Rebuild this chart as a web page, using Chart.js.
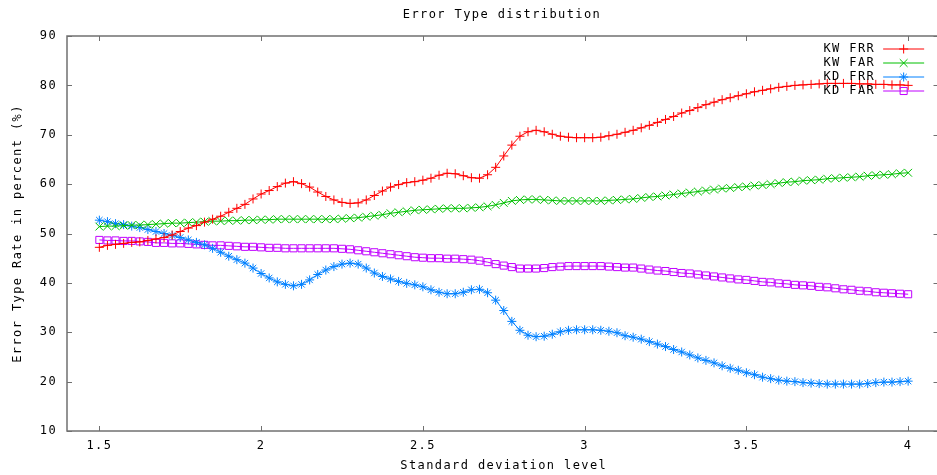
<!DOCTYPE html>
<html>
<head>
<meta charset="utf-8">
<script src="https://cdn.jsdelivr.net/npm/chart.js@4.4.0/dist/chart.umd.min.js"></script>
<style>
  html, body { margin: 0; padding: 0; background: #fff; overflow: hidden; }
  #wrap { width: 947px; height: 475px; }
</style>
</head>
<body>
<div id="wrap"><canvas id="errChart" width="947" height="475"></canvas></div>
<script>
// x values (standard deviation level)
const deviation = [
  1.5, 1.525, 1.55, 1.575, 1.6, 1.625, 1.65, 1.675, 1.7, 1.725,
  1.75, 1.775, 1.8, 1.825, 1.85, 1.875, 1.9, 1.925, 1.95, 1.975,
  2, 2.025, 2.05, 2.075, 2.1, 2.125, 2.15, 2.175, 2.2, 2.225,
  2.25, 2.275, 2.3, 2.325, 2.35, 2.375, 2.4, 2.425, 2.45, 2.475,
  2.5, 2.525, 2.55, 2.575, 2.6, 2.625, 2.65, 2.675, 2.7, 2.725,
  2.75, 2.775, 2.8, 2.825, 2.85, 2.875, 2.9, 2.925, 2.95, 2.975,
  3, 3.025, 3.05, 3.075, 3.1, 3.125, 3.15, 3.175, 3.2, 3.225,
  3.25, 3.275, 3.3, 3.325, 3.35, 3.375, 3.4, 3.425, 3.45, 3.475,
  3.5, 3.525, 3.55, 3.575, 3.6, 3.625, 3.65, 3.675, 3.7, 3.725,
  3.75, 3.775, 3.8, 3.825, 3.85, 3.875, 3.9, 3.925, 3.95, 3.975,
  4
];

const kwFrr = [
  47.2, 47.6, 47.8, 48.0, 48.2, 48.3, 48.6, 48.9, 49.2, 49.7,
  50.4, 51.1, 51.6, 52.3, 52.9, 53.5, 54.3, 55.1, 55.9, 57.0,
  58.0, 58.7, 59.5, 60.2, 60.5, 60.1, 59.4, 58.4, 57.5, 56.8,
  56.3, 56.1, 56.2, 56.8, 57.7, 58.6, 59.4, 59.9, 60.3, 60.5,
  60.8, 61.2, 61.8, 62.2, 62.1, 61.7, 61.3, 61.2, 61.9, 63.4,
  65.7, 67.9, 69.7, 70.6, 70.9, 70.6, 70.1, 69.7, 69.5, 69.4,
  69.4, 69.4, 69.5, 69.8, 70.1, 70.5, 70.9, 71.4, 71.9, 72.5,
  73.1, 73.7, 74.4, 74.9, 75.5, 76.1, 76.6, 77.1, 77.5, 77.9,
  78.3, 78.7, 79.0, 79.3, 79.6, 79.8, 80.0, 80.1, 80.2, 80.3,
  80.4, 80.4, 80.4, 80.4, 80.3, 80.3, 80.2, 80.2, 80.1, 80.1,
  80.0
];

const kwFar = [
  51.4, 51.5, 51.5, 51.6, 51.7, 51.7, 51.8, 51.9, 52.0, 52.1,
  52.1, 52.2, 52.3, 52.4, 52.5, 52.5, 52.6, 52.6, 52.7, 52.7,
  52.8, 52.8, 52.9, 52.9, 52.9, 52.9, 52.9, 52.9, 52.9, 52.9,
  53.0, 53.1, 53.2, 53.4, 53.6, 53.8, 54.1, 54.3, 54.5, 54.7,
  54.8, 54.9, 55.0, 55.1, 55.1, 55.1, 55.2, 55.3, 55.5, 55.8,
  56.2, 56.6, 56.8, 56.9, 56.9, 56.8, 56.7, 56.6, 56.6, 56.6,
  56.6, 56.6, 56.6, 56.7, 56.8, 56.9, 57.0, 57.2, 57.4, 57.5,
  57.7, 57.9, 58.1, 58.3, 58.5, 58.7, 58.9, 59.1, 59.2, 59.4,
  59.5, 59.7, 59.8, 60.0, 60.2, 60.4, 60.5, 60.7, 60.8, 60.9,
  61.1, 61.2, 61.3, 61.4, 61.5, 61.7, 61.8, 61.9, 62.0, 62.2,
  62.3
];

const kdFrr = [
  52.7, 52.4, 52.0, 51.8, 51.5, 51.2, 50.8, 50.4, 50.0, 49.6,
  49.2, 48.7, 48.2, 47.7, 47.0, 46.2, 45.4, 44.7, 44.0, 43.0,
  41.9, 41.0, 40.2, 39.7, 39.4, 39.7, 40.6, 41.7, 42.6, 43.3,
  43.8, 44.0, 43.8, 43.0, 42.0, 41.3, 40.8, 40.3, 39.9, 39.6,
  39.2, 38.6, 38.1, 37.8, 37.8, 38.1, 38.6, 38.7, 38.0, 36.5,
  34.4, 32.2, 30.4, 29.4, 29.1, 29.2, 29.6, 30.1, 30.4, 30.5,
  30.5, 30.5, 30.4, 30.2, 29.9, 29.3, 29.0, 28.6, 28.1, 27.6,
  27.1, 26.5, 26.0, 25.4, 24.8, 24.3, 23.8, 23.2, 22.7, 22.3,
  21.8, 21.4, 20.9, 20.6, 20.3, 20.1, 20.0, 19.8, 19.7, 19.6,
  19.5, 19.5, 19.5, 19.5, 19.5, 19.6, 19.8, 19.9, 19.9, 20.0,
  20.1
];

const kdFar = [
  48.7, 48.6, 48.6, 48.5, 48.5, 48.4, 48.3, 48.1, 48.1, 48.0,
  48.0, 47.9, 47.8, 47.7, 47.6, 47.6, 47.5, 47.4, 47.3, 47.3,
  47.2, 47.1, 47.1, 47.0, 47.0, 47.0, 47.0, 47.0, 47.0, 47.0,
  46.9, 46.8, 46.6, 46.4, 46.2, 46.0, 45.8, 45.6, 45.4, 45.2,
  45.1, 45.0, 45.0, 44.9, 44.9, 44.8, 44.7, 44.5, 44.2, 43.8,
  43.5, 43.2, 42.9, 42.9, 42.9, 43.0, 43.2, 43.3, 43.4, 43.4,
  43.4, 43.4, 43.4, 43.3, 43.2, 43.1, 43.1, 42.9, 42.7, 42.5,
  42.4, 42.2, 42.0, 41.9, 41.7, 41.5, 41.3, 41.1, 40.9, 40.7,
  40.6, 40.4, 40.2, 40.1, 39.9, 39.8, 39.6, 39.5, 39.4, 39.2,
  39.1, 38.9, 38.7, 38.6, 38.4, 38.3, 38.1, 38.0, 37.9, 37.8,
  37.7
];

const seriesNames = ['KW FRR', 'KW FAR', 'KD FRR', 'KD FAR'];
const seriesColors = ['#ff0000', '#00c000', '#0080ff', '#c000ff'];
const seriesMarkers = ['cross', 'crossRot', 'star', 'rect'];
const seriesRadius = [4.5, 5.5, 4.5, 5];

const xTicks = [1.5, 2, 2.5, 3, 3.5, 4];
const yTicks = [10, 20, 30, 40, 50, 60, 70, 80, 90];

const FONT = { family: 'DejaVu Sans Mono', size: 12 };

function toPoints(ys) {
  return deviation.map((x, i) => ({ x: x, y: ys[i] }));
}

const allSeries = [kwFrr, kwFar, kdFrr, kdFar];
const datasets = allSeries.map((ys, i) => ({
  label: seriesNames[i],
  data: toPoints(ys),
  borderColor: seriesColors[i],
  backgroundColor: 'rgba(0,0,0,0)',
  borderWidth: 1,
  pointStyle: seriesMarkers[i],
  pointRadius: seriesRadius[i],
  pointBorderWidth: 1,
  pointBorderColor: seriesColors[i],
  pointBackgroundColor: 'rgba(0,0,0,0)',
  tension: 0
}));

// gnuplot-like frame, inward ticks, title and key
const gnuFrame = {
  id: 'gnuFrame',
  beforeDraw(chart) {
    const ctx = chart.ctx;
    ctx.letterSpacing = '1.4px';
    ctx.save();
    ctx.fillStyle = '#fff';
    ctx.fillRect(0, 0, chart.width, chart.height);
    ctx.restore();
  },
  afterDraw(chart) {
    const ctx = chart.ctx;
    const a = chart.chartArea;
    const xs = chart.scales.x, ys = chart.scales.y;
    const right = Math.round(xs.getPixelForValue(4.092)) + 0.5;
    ctx.save();
    ctx.strokeStyle = '#707070';
    ctx.lineWidth = 1.5;
    ctx.strokeRect(a.left, a.top, right - a.left, a.bottom - a.top);
    ctx.lineWidth = 1;
    ctx.beginPath();
    xTicks.forEach(v => {
      const px = Math.round(xs.getPixelForValue(v)) + 0.5;
      ctx.moveTo(px, a.bottom); ctx.lineTo(px, a.bottom - 5);
      ctx.moveTo(px, a.top); ctx.lineTo(px, a.top + 5);
    });
    yTicks.forEach(v => {
      const py = Math.round(ys.getPixelForValue(v)) + 0.5;
      ctx.moveTo(a.left, py); ctx.lineTo(a.left + 5, py);
      ctx.moveTo(right, py); ctx.lineTo(right - 5, py);
    });
    ctx.stroke();

    // title
    ctx.letterSpacing = '1.4px';
    ctx.font = FONT.size + 'px "' + FONT.family + '"';
    ctx.fillStyle = '#000';
    ctx.textAlign = 'center';
    ctx.textBaseline = 'middle';
    ctx.fillText('Error Type distribution', (a.left + 937) / 2, 15);

    // key (top right)
    const kx = xs.getPixelForValue(4);
    chart.data.datasets.forEach((ds, i) => {
      const y = a.top + 13 + i * 14;
      ctx.fillStyle = '#000';
      ctx.textAlign = 'right';
      ctx.fillText(ds.label, kx - 33, y);
      ctx.strokeStyle = ds.borderColor;
      ctx.lineWidth = 1;
      ctx.beginPath();
      ctx.moveTo(kx - 25, y);
      ctx.lineTo(kx + 16, y);
      ctx.stroke();
      ctx.fillStyle = 'rgba(0,0,0,0)';
      Chart.helpers.drawPoint(ctx, {
        pointStyle: ds.pointStyle, radius: ds.pointRadius,
        rotation: 0, borderWidth: 1
      }, kx - 4.5, y);
    });
    ctx.restore();
  }
};

new Chart(document.getElementById('errChart'), {
  type: 'line',
  data: { datasets: datasets },
  plugins: [gnuFrame],
  options: {
    responsive: false,
    animation: false,
    devicePixelRatio: 1,
    layout: { padding: { top: 36, left: 0, right: 0, bottom: 0 } },
    plugins: {
      legend: { display: false },
      title: { display: false },
      tooltip: { enabled: false }
    },
    scales: {
      x: {
        type: 'linear',
        min: 1.4,
        max: 4.1,
        afterBuildTicks: s => { s.ticks = xTicks.map(v => ({ value: v })); },
        afterFit: s => { s.height = 44; s.paddingLeft = 0; s.paddingRight = 0; },
        grid: { display: false, drawTicks: false },
        border: { display: false },
        ticks: { padding: 8, color: '#000', font: FONT, maxRotation: 0, autoSkip: false,
                 callback: v => String(v) },
        title: { display: true, text: 'Standard deviation level', color: '#000',
                 font: FONT, padding: { top: 2, bottom: 2 } }
      },
      y: {
        min: 10,
        max: 90,
        afterBuildTicks: s => { s.ticks = yTicks.map(v => ({ value: v })); },
        afterFit: s => { s.width = 67; s.paddingTop = 0; s.paddingBottom = 0; },
        grid: { display: false, drawTicks: false },
        border: { display: false },
        ticks: { padding: 10, color: '#000', font: FONT },
        title: { display: true, text: 'Error Type Rate in percent (%)', color: '#000',
                 font: FONT, padding: { top: 11, bottom: 0 } }
      }
    }
  }
});
</script>
</body>
</html>
